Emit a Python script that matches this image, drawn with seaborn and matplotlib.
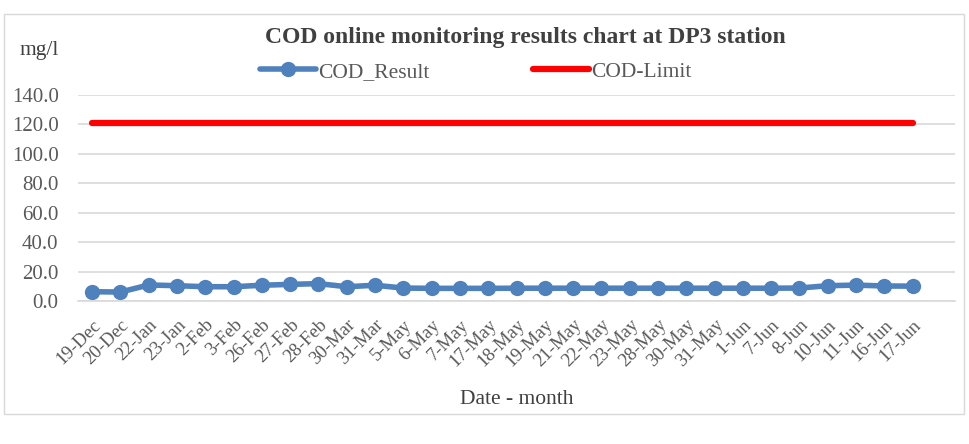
import pandas as pd
import matplotlib
matplotlib.use('Agg')
import matplotlib.pyplot as plt
from matplotlib.patches import Rectangle
from matplotlib.ticker import FixedLocator, FormatStrFormatter
import seaborn as sns

# Sampling dates (category labels) and values
dates = ['19-Dec', '20-Dec', '22-Jan', '23-Jan', '2-Feb', '3-Feb', '26-Feb', '27-Feb',
         '28-Feb', '30-Mar', '31-Mar', '5-May', '6-May', '7-May', '17-May', '18-May',
         '19-May', '21-May', '22-May', '23-May', '28-May', '30-May', '31-May', '1-Jun',
         '7-Jun', '8-Jun', '10-Jun', '11-Jun', '16-Jun', '17-Jun']
cod_result = [6.3, 6.1, 10.9, 10.4, 9.7, 9.7, 10.7, 11.3, 11.8, 9.7, 10.7, 8.8,
              8.6, 8.6, 8.6, 8.7, 8.7, 8.7, 8.7, 8.7, 8.7, 8.7, 8.7, 8.7,
              8.7, 8.8, 10.4, 10.8, 10.2, 10.1]
cod_limit = [121] * len(dates)
n_slots = len(dates) + 1  # chart axis has one extra empty category at the end

df = pd.DataFrame({'date': dates, 'COD_Result': cod_result, 'COD-Limit': cod_limit})
df['pos'] = range(len(df))

sns.set_style('white')
plt.rcParams['font.family'] = ['Liberation Serif', 'DejaVu Serif']

fig = plt.figure(figsize=(9.69, 4.44), dpi=100)
ax = fig.add_axes([78 / 969, 1 - 301 / 444, (955 - 78) / 969, (301 - 95) / 444])

blue = '#4F81BD'
sns.lineplot(data=df, x='pos', y='COD_Result', ax=ax, color=blue, linewidth=4,
             marker='o', markersize=11, markeredgewidth=0, label='COD_Result', sort=False,
             solid_capstyle='round')
sns.lineplot(data=df, x='pos', y='COD-Limit', ax=ax, color='#FF0000', linewidth=4.5,
             label='COD-Limit', sort=False, solid_capstyle='round')

ax.set_xlim(-0.5, n_slots - 0.5)
ax.set_ylim(0, 140)
ax.set_yticks(range(0, 141, 20))
ax.yaxis.set_major_formatter(FormatStrFormatter('%.1f'))
ax.grid(axis='y', color='#D9D9D9', linewidth=1.2)
ax.set_axisbelow(True)

ax.set_xticks(df['pos'])
ax.set_xticklabels(dates, rotation=45, ha='right', rotation_mode='anchor')
ax.xaxis.set_minor_locator(FixedLocator([i - 0.5 for i in range(n_slots + 1)]))
ax.tick_params(axis='x', which='major', length=0, pad=11, labelsize=13.5, labelcolor='#595959')
ax.tick_params(axis='x', which='minor', length=5, color='#D9D9D9', width=1.2, direction='out')
ax.tick_params(axis='y', length=0, labelsize=15, labelcolor='#595959', pad=14)

for side in ['top', 'right', 'left']:
    ax.spines[side].set_visible(False)
ax.spines['bottom'].set_color('#D9D9D9')
ax.spines['bottom'].set_linewidth(1.2)

ax.set_xlabel('Date - month', fontsize=15.5, color='#404040', labelpad=14)
ax.set_ylabel('')

fig.text(525 / 969, 1 - 38 / 444, 'COD online monitoring results chart at DP3 station',
         ha='center', va='center', fontsize=17, fontweight='bold', color='#404040')
fig.text(39 / 969, 1 - 50 / 444, 'mg/l', ha='center', va='center', fontsize=15.5, color='#404040')

ax.legend(loc='center left', bbox_to_anchor=(260 / 969, 1 - 72 / 444), bbox_transform=fig.transFigure,
          ncol=2, frameon=False, fontsize=15.5, handlelength=2.6, columnspacing=4.8,
          handletextpad=0.1, labelcolor='#595959', borderpad=0, borderaxespad=0)

fig.patches.append(Rectangle((4 / 969, 1 - 414 / 444), 960 / 969, 400 / 444,
                             transform=fig.transFigure, fill=False,
                             edgecolor='#D9D9D9', linewidth=1))

fig.savefig('out.png', dpi=100)
print('Saved: out.png')
